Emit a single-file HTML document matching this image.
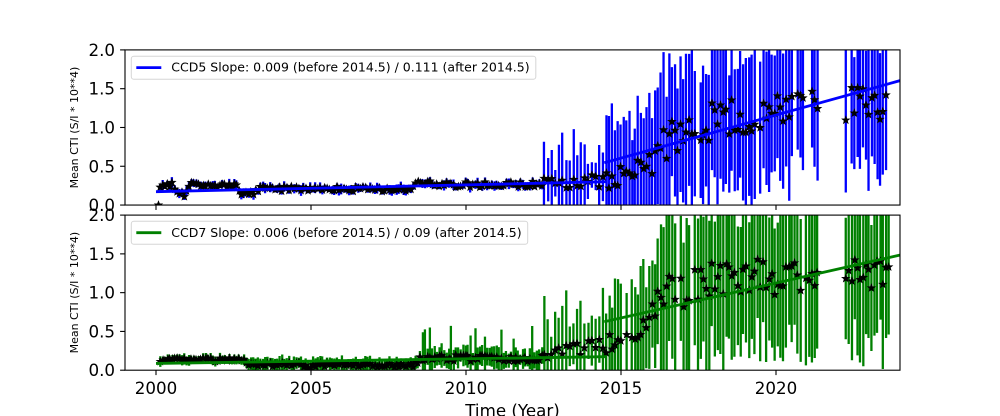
<!DOCTYPE html>
<html><head><meta charset="utf-8">
<style>
html,body{margin:0;padding:0;background:#fff;width:1000px;height:416px;overflow:hidden;}
svg{display:block;font-family:"DejaVu Sans","Liberation Sans",sans-serif;}
</style></head><body>
<svg id="c" width="1000" height="416" viewBox="0 0 1000 416" xmlns="http://www.w3.org/2000/svg">
<defs>
<clipPath id="cpT"><rect x="125" y="49.9" width="775" height="155.15"/></clipPath>
<clipPath id="cpB"><rect x="125" y="215.1" width="775" height="155.1"/></clipPath>
</defs>
<rect x="0" y="0" width="1000" height="416" fill="#fff"/>
<g id="dataT" clip-path="url(#cpT)"></g>
<g id="dataB" clip-path="url(#cpB)"></g>

<rect x="125" y="49.9" width="775" height="155.15" fill="none" stroke="#000" stroke-width="1.1"/>
<rect x="125" y="215.1" width="775" height="155.1" fill="none" stroke="#000" stroke-width="1.1"/>

<g stroke="#000" stroke-width="1.1">
<line x1="156" y1="205.05" x2="156" y2="209.95"/>
<line x1="311" y1="205.05" x2="311" y2="209.95"/>
<line x1="466" y1="205.05" x2="466" y2="209.95"/>
<line x1="621" y1="205.05" x2="621" y2="209.95"/>
<line x1="776" y1="205.05" x2="776" y2="209.95"/>
<line x1="156" y1="370.2" x2="156" y2="375.1"/>
<line x1="311" y1="370.2" x2="311" y2="375.1"/>
<line x1="466" y1="370.2" x2="466" y2="375.1"/>
<line x1="621" y1="370.2" x2="621" y2="375.1"/>
<line x1="776" y1="370.2" x2="776" y2="375.1"/>
<line x1="120.1" y1="205.05" x2="125" y2="205.05"/>
<line x1="120.1" y1="166.26" x2="125" y2="166.26"/>
<line x1="120.1" y1="127.48" x2="125" y2="127.48"/>
<line x1="120.1" y1="88.69" x2="125" y2="88.69"/>
<line x1="120.1" y1="49.9" x2="125" y2="49.9"/>
<line x1="120.1" y1="370.2" x2="125" y2="370.2"/>
<line x1="120.1" y1="331.425" x2="125" y2="331.425"/>
<line x1="120.1" y1="292.65" x2="125" y2="292.65"/>
<line x1="120.1" y1="253.875" x2="125" y2="253.875"/>
<line x1="120.1" y1="215.1" x2="125" y2="215.1"/>
</g>

<g font-size="16.7" fill="#000" text-anchor="end">
<text x="115" y="211.05">0.0</text>
<text x="115" y="172.26">0.5</text>
<text x="115" y="133.48">1.0</text>
<text x="115" y="94.69">1.5</text>
<text x="115" y="55.9">2.0</text>
<text x="115" y="376.2">0.0</text>
<text x="115" y="337.4">0.5</text>
<text x="115" y="298.65">1.0</text>
<text x="115" y="259.9">1.5</text>
<text x="115" y="221.1">2.0</text>
</g>
<g font-size="16.7" fill="#000" text-anchor="middle">
<text x="156" y="394">2000</text>
<text x="311" y="394">2005</text>
<text x="466" y="394">2010</text>
<text x="621" y="394">2015</text>
<text x="776" y="394">2020</text>
<text x="512.5" y="416.3">Time (Year)</text>
</g>
<text transform="translate(78,127.5) rotate(-90)" font-size="11" text-anchor="middle" fill="#000">Mean CTI (S/I * 10**4)</text>
<text transform="translate(78,292.6) rotate(-90)" font-size="11" text-anchor="middle" fill="#000">Mean CTI (S/I * 10**4)</text>

<rect x="131.3" y="56.2" width="404.5" height="23" rx="2.5" ry="2.5" fill="#fff" fill-opacity="0.8" stroke="#d6d6d6" stroke-width="1"/>
<line x1="136.3" y1="67.6" x2="161.3" y2="67.6" stroke="#0000ff" stroke-width="2.8"/>
<text x="171.3" y="71.7" font-size="12.5" fill="#000">CCD5 Slope: 0.009 (before 2014.5) / 0.111 (after 2014.5)</text>

<rect x="131.3" y="221.3" width="396.4" height="23" rx="2.5" ry="2.5" fill="#fff" fill-opacity="0.8" stroke="#d6d6d6" stroke-width="1"/>
<line x1="136.3" y1="232.7" x2="161.3" y2="232.7" stroke="#008000" stroke-width="2.8"/>
<text x="171.3" y="236.8" font-size="12.5" fill="#000">CCD7 Slope: 0.006 (before 2014.5) / 0.09 (after 2014.5)</text>
</svg>
<script>
(function(){
var NS="http://www.w3.org/2000/svg";
var s=24680;
function r(){ s=(s*16807)%2147483647; return (s-1)/2147483646; }
function X(t){return 125+(t-1999)*31;}
var K=77.55;
function lerp(cp,t){
  if(t<=cp[0][0])return cp[0][1];
  for(var i=1;i<cp.length;i++){
    if(t<=cp[i][0]){var a=cp[i-1],b=cp[i];return a[1]+(b[1]-a[1])*(t-a[0])/(b[0]-a[0]);}
  }
  return cp[cp.length-1][1];
}
function starPath(x,y,R){
  var ri=R*0.42,d="";
  for(var k=0;k<10;k++){
    var ang=-Math.PI/2+k*Math.PI/5;var rr=(k%2==0)?R:ri;
    d+=(k?"L":"M")+(x+rr*Math.cos(ang)).toFixed(2)+" "+(y+rr*Math.sin(ang)).toFixed(2);
  }
  return d+"Z";
}
function mk(tag,attrs){var e=document.createElementNS(NS,tag);for(var k in attrs)e.setAttribute(k,attrs[k]);return e;}
function build(gid,y0,cp,noiseF,errF,fits,color,first,tEnd){
  var g=document.getElementById(gid);
  var pts=[];
  if(first)pts.push(first);
  var t=2000.14;
  while(t<tEnd){
    var tt=t+(r()-0.5)*0.025;
    t+= (t<2012.5)?1/13:((t<2014.5)?0.118:0.092);
    if(tt>2021.35&&tt<2022.2)continue;
    if(tt>2014.5&&r()<0.06)continue;
    var m=lerp(cp,tt)+(r()*2-1)*noiseF(tt);
    if(m<0.01)m=0.01;
    var e=errF(tt,m);
    pts.push([tt,m,e]);
  }
  var bars="",stars="";
  pts.forEach(function(p){
    var x=X(p[0]);
    bars+="M"+x.toFixed(2)+" "+(y0-(p[1]+p[2])*K).toFixed(2)+"V"+(y0-Math.max(p[1]-p[2],-0.2)*K).toFixed(2);
    stars+=starPath(x,y0-p[1]*K,4.1);
  });
  g.appendChild(mk("path",{d:bars,stroke:color,"stroke-width":"2.3",fill:"none"}));
  g.appendChild(mk("path",{d:stars,fill:"#000",stroke:"#000","stroke-width":"0.6"}));
  fits.forEach(function(f){
    g.appendChild(mk("line",{x1:X(f[0]),y1:y0-f[1]*K,x2:X(f[2]),y2:y0-f[3]*K,stroke:color,"stroke-width":"2.8"}));
  });
}
var cpT=[[2000.15,0.24],[2000.55,0.26],[2000.65,0.14],[2000.95,0.14],[2001.05,0.26],[2002.6,0.26],[2002.7,0.16],[2003.2,0.17],[2003.4,0.21],[2008.2,0.2],[2008.4,0.3],[2008.9,0.3],[2009.1,0.26],[2012.5,0.27],[2014.5,0.32],[2015.3,0.42],[2016.0,0.65],[2016.8,0.9],[2017.5,1.05],[2018.5,1.15],[2019.5,1.2],[2020.5,1.25],[2021.3,1.25],[2022.2,1.3],[2023.6,1.2]];
build("dataT",205.05,cpT,
  function(t){return t<2012.5?0.035:(t<2014.5?0.08:(t<2016?0.12:0.25));},
  function(t,m){ if(t<2012.5)return 0.03+0.04*r(); if(t<2014.5)return 0.15+0.5*Math.pow(r(),1.3); if(t<2015.5)return 0.45+0.5*r(); if(t<2016.2)return 0.6+0.45*r(); return 0.7+0.4*r(); },
  [[2000,0.172,2014.5,0.3],[2014.46,0.545,2024.5,1.66]],
  "#0000ff",[2000.08,0.0,0.02],2023.6);
var cpB=[[2000.1,0.13],[2002.8,0.14],[2003.0,0.07],[2004.6,0.08],[2005.0,0.04],[2005.3,0.07],[2008.3,0.06],[2008.6,0.16],[2012.5,0.15],[2013.0,0.25],[2014.5,0.33],[2015.2,0.42],[2015.8,0.6],[2016.3,0.95],[2017.0,1.0],[2018.0,1.15],[2019.0,1.25],[2020.0,1.15],[2021.3,1.2],[2022.2,1.2],[2023.6,1.15]];
build("dataB",370.2,cpB,
  function(t){return t<2008.5?0.025:(t<2012.5?0.04:(t<2014.5?0.09:(t<2016?0.12:0.25)));},
  function(t,m){ if(t<2002.8)return 0.04+0.03*r(); if(t<2008.5)return 0.06+0.05*r(); if(t<2012.5){return r()<0.1?0.25+0.2*r():0.06+0.1*r();} if(t<2014.5)return 0.2+0.6*Math.pow(r(),1.3); if(t<2016.2)return 0.5+0.4*r(); return 0.75+0.4*r(); },
  [[2000,0.087,2014.5,0.174],[2014.46,0.625,2024.5,1.53]],
  "#008000",null,2023.65);
})();
</script>
</body></html>
